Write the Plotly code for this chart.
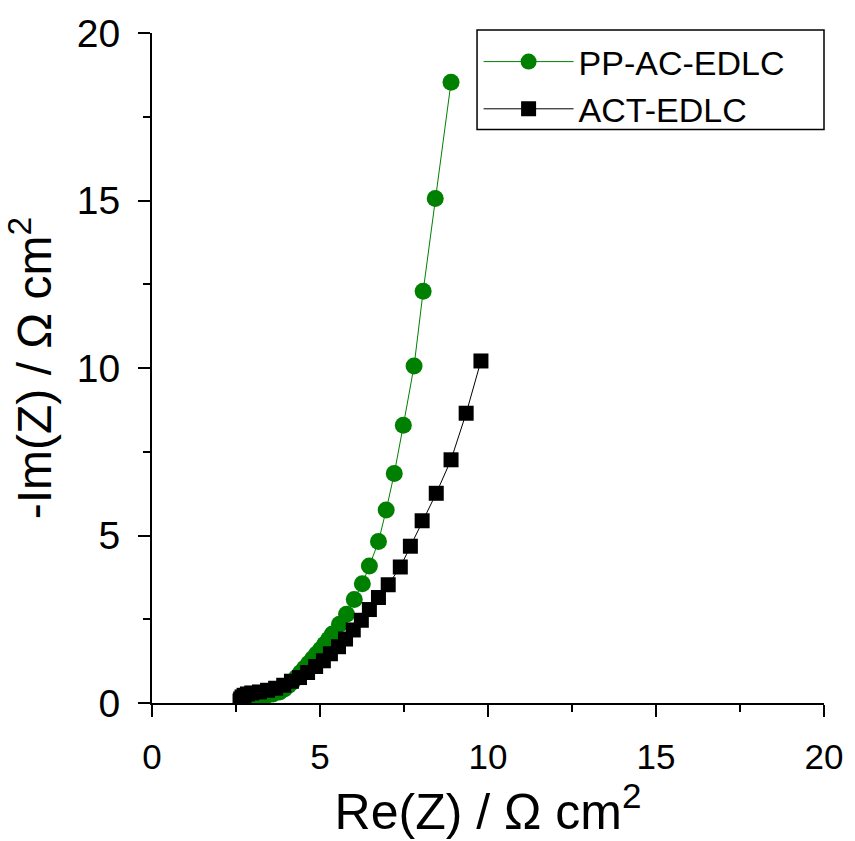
import plotly.graph_objects as go

# PP-AC-EDLC (green circles)
pp_re = [2.80, 3.00, 3.20, 3.40, 3.60, 3.80, 3.94, 4.06, 4.18, 4.30, 4.42, 4.54, 4.66,
         4.78, 4.90, 5.02, 5.14, 5.26, 5.37, 5.58, 5.79, 6.02, 6.26, 6.47, 6.74,
         6.97, 7.21, 7.48, 7.80, 8.07, 8.43, 8.90]
pp_im = [0.10, 0.14, 0.18, 0.22, 0.27, 0.33, 0.42, 0.52, 0.63, 0.76, 0.90, 1.04, 1.18,
         1.32, 1.46, 1.60, 1.75, 1.90, 2.06, 2.35, 2.65, 3.09, 3.56, 4.09, 4.82,
         5.76, 6.85, 8.29, 10.06, 12.29, 15.06, 18.53]

# ACT-EDLC (black squares)
act_re = [2.62, 2.64, 2.68, 2.74, 2.84, 2.97, 3.20, 3.44, 3.68, 3.92, 4.15, 4.39, 4.63,
          4.87, 5.10, 5.31, 5.55, 5.76, 5.99, 6.23, 6.47, 6.74, 7.03, 7.39, 7.69,
          8.04, 8.46, 8.90, 9.35, 9.79]
act_im = [0.06, 0.12, 0.18, 0.23, 0.27, 0.30, 0.33, 0.38, 0.44, 0.53, 0.65, 0.76, 0.91,
          1.09, 1.26, 1.47, 1.68, 1.91, 2.18, 2.47, 2.79, 3.15, 3.53, 4.06, 4.68,
          5.44, 6.26, 7.26, 8.65, 10.21]

FONT = "Liberation Sans, Arial, sans-serif"

fig = go.Figure()
fig.add_trace(go.Scatter(
    x=pp_re, y=pp_im, mode="lines+markers", name="PP-AC-EDLC",
    line=dict(color="#008000", width=1),
    marker=dict(symbol="circle", size=17, color="#008000"),
))
fig.add_trace(go.Scatter(
    x=act_re, y=act_im, mode="lines+markers", name="ACT-EDLC",
    line=dict(color="#000000", width=1),
    marker=dict(symbol="square", size=15, color="#000000"),
))

axis_common = dict(
    range=[0, 20], dtick=5, tick0=0,
    showline=True, linecolor="black", linewidth=2,
    ticks="outside", ticklen=12, tickwidth=2, tickcolor="black",
    minor=dict(ticks="outside", ticklen=7, tickwidth=2, tickcolor="black", dtick=2.5),
    showgrid=False, zeroline=False, ticklabelstandoff=10,
)

fig.update_xaxes(
    **axis_common,
    tickfont=dict(family=FONT, size=35, color="black"),
    title=dict(text="Re(Z) / Ω cm<sup>2</sup>", font=dict(family=FONT, size=50, color="black"),
               standoff=18),
)
fig.update_yaxes(
    **axis_common,
    tickfont=dict(family=FONT, size=39, color="black"),
    title=dict(text="-Im(Z) / Ω cm<sup>2</sup>", font=dict(family=FONT, size=48, color="black"),
               standoff=10),
)

fig.update_layout(
    width=855, height=841,
    margin=dict(l=152, r=29, t=30, b=131),
    paper_bgcolor="white", plot_bgcolor="white",
    font=dict(family=FONT, color="black"),
    legend=dict(
        x=0.486, y=1.0, xanchor="left", yanchor="top",
        bgcolor="rgba(255,255,255,0)", borderwidth=0,
        font=dict(family=FONT, size=34, color="black"),
        itemwidth=90, tracegroupgap=0,
    ),
    shapes=[dict(type="rect", xref="paper", yref="paper",
                 x0=0.4837, x1=1.0, y0=0.856, y1=1.0044,
                 line=dict(color="black", width=1.5), layer="above")],
    showlegend=True,
)

fig.write_html("out.html")
